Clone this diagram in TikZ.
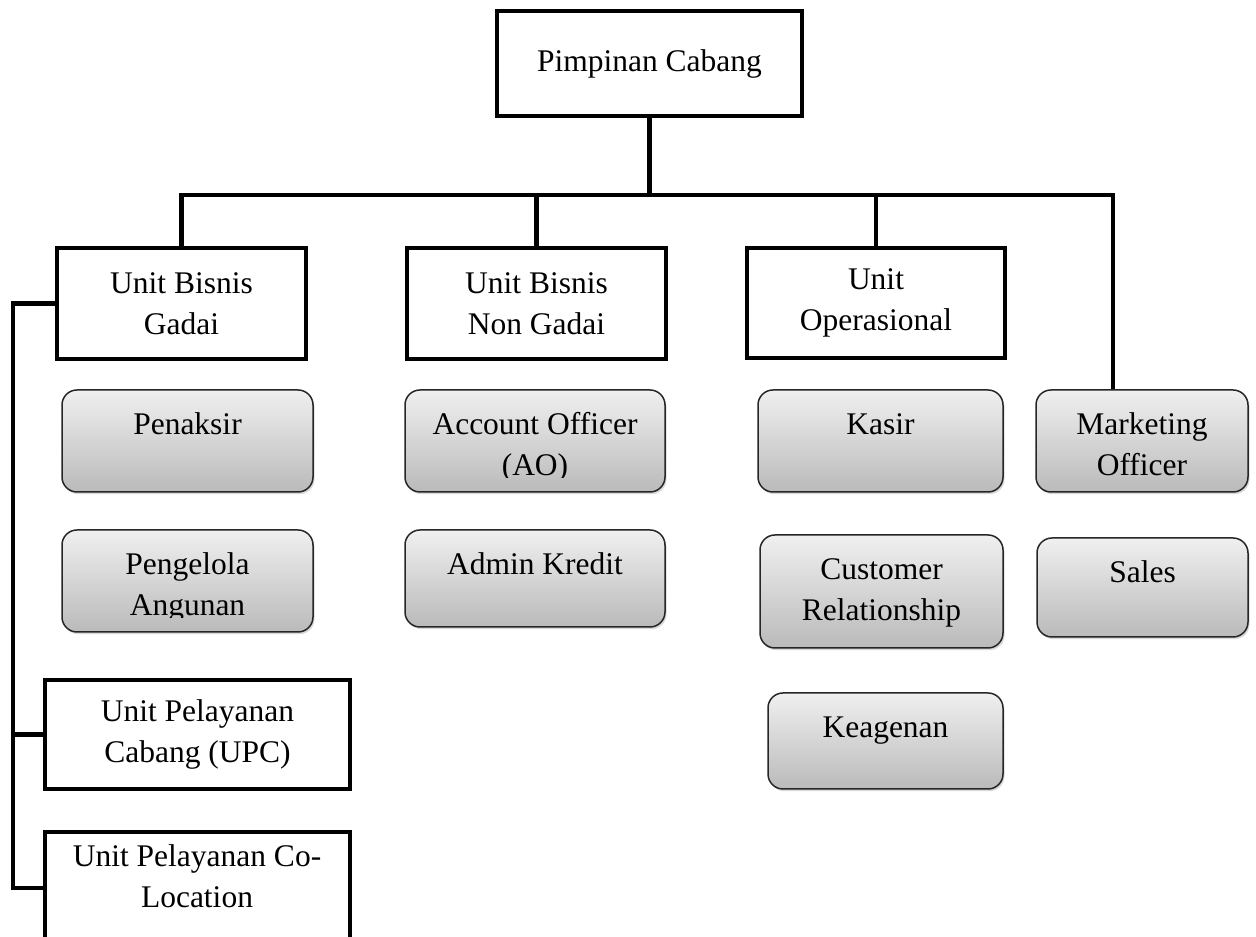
\documentclass[tikz,border=0pt]{standalone}
\usepackage{fontspec}
\setmainfont{Liberation Serif}
\usetikzlibrary{shadows}

% white unit box: name, x1, y1, x2, y2, text
\newcommand\WBox[6]{%
  \node[unitbox, minimum width={(#4-#2)*0.4pt}, minimum height={(#5-#3)*0.4pt}]
    (#1) at ({(#2+#4)/2},{(#3+#5)/2}) {#6};}

% shaded role box with top-aligned, clipped text:
% name, x1, y1, x2, y2, text, number of extra lines
\newcommand\GBox[7]{%
  \node[rolebox, minimum width={(#4-#2)*0.4pt}, minimum height={(#5-#3)*0.4pt}]
    (#1) at ({(#2+#4)/2},{(#3+#5)/2}) {};
  \begin{scope}
    \clip (#1.north west) rectangle ([yshift=6pt]#1.south east);
    \node[roletext] (#1-t) at ({(#2+#4)/2},{#3+45+41*#7}) {#6};
  \end{scope}}

\begin{document}
\begin{tikzpicture}[x=0.4pt,y=-0.4pt,
  every node/.style={font=\fontsize{12.6}{16.4}\selectfont},
  unitbox/.style={draw=black, line width=1.7pt, fill=white, align=center, inner sep=0pt},
  rolebox/.style={draw=black!85, line width=0.6pt, rounded corners=6pt,
    top color=black!6, bottom color=black!27, inner sep=0pt,
    drop shadow={shadow xshift=0.6pt, shadow yshift=-0.9pt, opacity=0.3}},
  roletext/.style={anchor=base, align=center, inner sep=0pt},
  link/.style={line width=1.7pt, line join=miter}]

\useasboundingbox (0,0) rectangle (1256,937);

% top and unit level
\WBox{pim}{497}{11}{802}{116}{Pimpinan Cabang}
\WBox{gadai}{57}{248}{306}{359}{Unit Bisnis\\Gadai}
\WBox{nongadai}{407}{248}{666}{359}{Unit Bisnis\\Non Gadai}
\WBox{ops}{747}{248}{1005}{358}{Unit\\Operasional}
\WBox{upc}{45}{680}{350}{789}{Unit Pelayanan\\Cabang (UPC)}
\WBox{colo}{45}{832}{350}{960}{}
\node[roletext] (colo-t) at (197,908) {Unit Pelayanan Co-\\Location};

% roles
\GBox{pen}{62}{390}{313}{492}{Penaksir}{0}
\GBox{agun}{62}{530}{313}{632}{Pengelola\\Angunan}{1}
\GBox{ao}{405}{390}{665}{492}{Account Officer\\(AO)}{1}
\GBox{admin}{405}{530}{665}{627}{Admin Kredit}{0}
\GBox{kasir}{758}{390}{1003}{492}{Kasir}{0}
\GBox{mkt}{1036}{390}{1248}{492}{Marketing\\Officer}{1}
\GBox{cr}{760}{535}{1003}{648}{Customer\\Relationship}{1}
\GBox{sales}{1037}{538}{1248}{637}{Sales}{0}
\GBox{keag}{768}{693}{1003}{789}{Keagenan}{0}

% connectors
\coordinate (busR) at (1113,195);
\coordinate (spine) at (13,888);
\draw[link] (pim.south) -- (pim.south |- busR);
\draw[link] (gadai.north) |- (busR) -- (busR |- mkt.north);
\draw[link] (nongadai.north) -- (nongadai.north |- busR);
\draw[link] (ops.north) -- (ops.north |- busR);
\draw[link] (gadai.west) -| (spine) -- (colo.west |- spine);
\draw[link] (upc.west) -- (upc.west -| spine);
\end{tikzpicture}
\end{document}
